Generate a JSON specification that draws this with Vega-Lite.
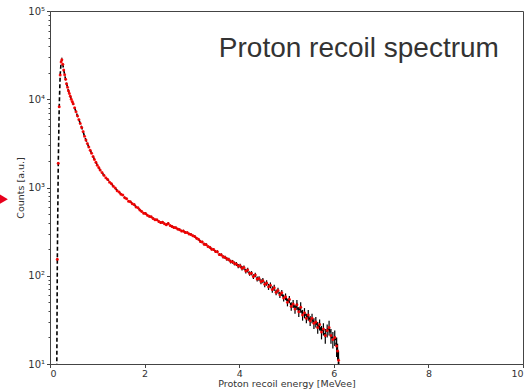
{
  "$schema": "https://vega.github.io/schema/vega-lite/v6.json",
  "width": 473,
  "height": 353,
  "autosize": {"type": "none"},
  "padding": {"left": 50, "top": 11, "right": 7, "bottom": 27},
  "background": "white",
  "config": {
    "view": {"stroke": "#444444", "strokeWidth": 1},
    "axis": {
      "domainColor": "#444444",
      "tickColor": "#444444",
      "labelColor": "#333333",
      "titleColor": "#333333",
      "labelFont": "DejaVu Sans",
      "titleFont": "DejaVu Sans",
      "labelFontSize": 10,
      "titleFontSize": 10,
      "titleFontWeight": "normal",
      "grid": false
    }
  },
  "datasets": {
    "spec": [
      {"x": 0.135, "y": 1, "e": 0},
      {"x": 0.155, "y": 154, "e": 5},
      {"x": 0.175, "y": 1880, "e": 40},
      {"x": 0.195, "y": 8200, "e": 120},
      {"x": 0.215, "y": 18800, "e": 200},
      {"x": 0.235, "y": 26500, "e": 250},
      {"x": 0.25, "y": 28000, "e": 260},
      {"x": 0.27, "y": 25000, "e": 240},
      {"x": 0.29, "y": 21500, "e": 220},
      {"x": 0.31, "y": 19000, "e": 200},
      {"x": 0.33, "y": 16800, "e": 180},
      {"x": 0.35, "y": 15000, "e": 160},
      {"x": 0.37, "y": 13700, "e": 150},
      {"x": 0.39, "y": 12500, "e": 140},
      {"x": 0.41, "y": 11600, "e": 130},
      {"x": 0.43, "y": 10800, "e": 120},
      {"x": 0.45, "y": 10000, "e": 110},
      {"x": 0.47, "y": 9400, "e": 100},
      {"x": 0.49, "y": 8900, "e": 100},
      {"x": 0.52, "y": 8000, "e": 90},
      {"x": 0.55, "y": 7200, "e": 85},
      {"x": 0.58, "y": 6500, "e": 80},
      {"x": 0.61, "y": 5900, "e": 75},
      {"x": 0.64, "y": 5300, "e": 70},
      {"x": 0.67, "y": 4800, "e": 65},
      {"x": 0.70, "y": 4300, "e": 60},
      {"x": 0.73, "y": 3800, "e": 55},
      {"x": 0.76, "y": 3450, "e": 50},
      {"x": 0.79, "y": 3150, "e": 50},
      {"x": 0.82, "y": 2880, "e": 45},
      {"x": 0.85, "y": 2650, "e": 45},
      {"x": 0.88, "y": 2440, "e": 40},
      {"x": 0.91, "y": 2250, "e": 40},
      {"x": 0.94, "y": 2080, "e": 38},
      {"x": 0.97, "y": 1930, "e": 36},
      {"x": 1.00, "y": 1790, "e": 34},
      {"x": 1.03, "y": 1690, "e": 32},
      {"x": 1.06, "y": 1575, "e": 30},
      {"x": 1.10, "y": 1475, "e": 30},
      {"x": 1.14, "y": 1380, "e": 28},
      {"x": 1.18, "y": 1290, "e": 27},
      {"x": 1.22, "y": 1230, "e": 26},
      {"x": 1.26, "y": 1150, "e": 25},
      {"x": 1.30, "y": 1100, "e": 24},
      {"x": 1.34, "y": 1030, "e": 23},
      {"x": 1.38, "y": 985, "e": 22},
      {"x": 1.42, "y": 920, "e": 22},
      {"x": 1.46, "y": 890, "e": 21},
      {"x": 1.50, "y": 840, "e": 20},
      {"x": 1.54, "y": 820, "e": 20},
      {"x": 1.58, "y": 765, "e": 19},
      {"x": 1.62, "y": 745, "e": 19},
      {"x": 1.66, "y": 700, "e": 18},
      {"x": 1.70, "y": 690, "e": 18},
      {"x": 1.74, "y": 655, "e": 17},
      {"x": 1.78, "y": 640, "e": 17},
      {"x": 1.82, "y": 600, "e": 16},
      {"x": 1.86, "y": 590, "e": 16},
      {"x": 1.90, "y": 555, "e": 15},
      {"x": 1.94, "y": 535, "e": 15},
      {"x": 1.98, "y": 512, "e": 15},
      {"x": 2.02, "y": 508, "e": 15},
      {"x": 2.06, "y": 485, "e": 14},
      {"x": 2.10, "y": 472, "e": 14},
      {"x": 2.14, "y": 465, "e": 14},
      {"x": 2.18, "y": 445, "e": 14},
      {"x": 2.22, "y": 432, "e": 13},
      {"x": 2.26, "y": 430, "e": 13},
      {"x": 2.30, "y": 412, "e": 13},
      {"x": 2.34, "y": 400, "e": 13},
      {"x": 2.38, "y": 405, "e": 13},
      {"x": 2.42, "y": 388, "e": 12},
      {"x": 2.46, "y": 378, "e": 12},
      {"x": 2.50, "y": 392, "e": 12},
      {"x": 2.54, "y": 370, "e": 12},
      {"x": 2.58, "y": 362, "e": 11},
      {"x": 2.62, "y": 352, "e": 11},
      {"x": 2.66, "y": 350, "e": 11},
      {"x": 2.70, "y": 338, "e": 10},
      {"x": 2.74, "y": 333, "e": 10},
      {"x": 2.78, "y": 322, "e": 10},
      {"x": 2.82, "y": 322, "e": 10},
      {"x": 2.86, "y": 310, "e": 9},
      {"x": 2.90, "y": 309, "e": 9},
      {"x": 2.94, "y": 298, "e": 9},
      {"x": 2.98, "y": 294, "e": 9},
      {"x": 3.02, "y": 284, "e": 9},
      {"x": 3.06, "y": 278, "e": 9},
      {"x": 3.10, "y": 266, "e": 8},
      {"x": 3.14, "y": 260, "e": 8},
      {"x": 3.18, "y": 244, "e": 8},
      {"x": 3.22, "y": 242, "e": 8},
      {"x": 3.26, "y": 228, "e": 8},
      {"x": 3.30, "y": 226, "e": 8},
      {"x": 3.34, "y": 215, "e": 7},
      {"x": 3.38, "y": 210, "e": 7},
      {"x": 3.42, "y": 200, "e": 7},
      {"x": 3.46, "y": 198, "e": 7},
      {"x": 3.50, "y": 188, "e": 7},
      {"x": 3.54, "y": 187, "e": 7},
      {"x": 3.58, "y": 174, "e": 7},
      {"x": 3.62, "y": 173, "e": 7},
      {"x": 3.66, "y": 164, "e": 7},
      {"x": 3.70, "y": 162, "e": 7},
      {"x": 3.74, "y": 155, "e": 7},
      {"x": 3.78, "y": 153, "e": 7},
      {"x": 3.82, "y": 145, "e": 7},
      {"x": 3.86, "y": 144, "e": 7},
      {"x": 3.90, "y": 138, "e": 7},
      {"x": 3.94, "y": 136, "e": 7},
      {"x": 3.98, "y": 129, "e": 7},
      {"x": 4.02, "y": 130, "e": 7},
      {"x": 4.06, "y": 122, "e": 7},
      {"x": 4.10, "y": 124, "e": 7},
      {"x": 4.14, "y": 113, "e": 7},
      {"x": 4.18, "y": 116, "e": 7},
      {"x": 4.22, "y": 106, "e": 6},
      {"x": 4.26, "y": 107, "e": 6},
      {"x": 4.30, "y": 98, "e": 6},
      {"x": 4.34, "y": 102, "e": 6},
      {"x": 4.38, "y": 92, "e": 6},
      {"x": 4.42, "y": 93, "e": 6},
      {"x": 4.46, "y": 86, "e": 6},
      {"x": 4.50, "y": 88, "e": 6},
      {"x": 4.54, "y": 80, "e": 6},
      {"x": 4.58, "y": 83, "e": 6},
      {"x": 4.62, "y": 75, "e": 6},
      {"x": 4.66, "y": 78, "e": 6},
      {"x": 4.70, "y": 70, "e": 6},
      {"x": 4.74, "y": 73, "e": 6},
      {"x": 4.78, "y": 65, "e": 5},
      {"x": 4.82, "y": 68, "e": 5},
      {"x": 4.86, "y": 61, "e": 5},
      {"x": 4.90, "y": 64, "e": 5},
      {"x": 4.94, "y": 56, "e": 5},
      {"x": 4.98, "y": 58, "e": 5},
      {"x": 5.02, "y": 50, "e": 5},
      {"x": 5.06, "y": 54, "e": 5},
      {"x": 5.10, "y": 45, "e": 5},
      {"x": 5.14, "y": 48, "e": 5},
      {"x": 5.18, "y": 42, "e": 5},
      {"x": 5.22, "y": 47, "e": 6},
      {"x": 5.26, "y": 39, "e": 5},
      {"x": 5.30, "y": 44, "e": 6},
      {"x": 5.34, "y": 36, "e": 5},
      {"x": 5.38, "y": 38, "e": 5},
      {"x": 5.42, "y": 33, "e": 4},
      {"x": 5.46, "y": 36, "e": 5},
      {"x": 5.50, "y": 31, "e": 4},
      {"x": 5.54, "y": 33, "e": 4},
      {"x": 5.58, "y": 29, "e": 4},
      {"x": 5.62, "y": 30, "e": 4},
      {"x": 5.66, "y": 26, "e": 4},
      {"x": 5.70, "y": 28, "e": 4},
      {"x": 5.74, "y": 23, "e": 4},
      {"x": 5.78, "y": 25, "e": 4},
      {"x": 5.82, "y": 21, "e": 4},
      {"x": 5.86, "y": 24, "e": 4},
      {"x": 5.90, "y": 26, "e": 5},
      {"x": 5.94, "y": 21, "e": 4},
      {"x": 5.98, "y": 19, "e": 4},
      {"x": 6.02, "y": 20, "e": 4},
      {"x": 6.06, "y": 16, "e": 4},
      {"x": 6.08, "y": 14, "e": 3},
      {"x": 6.10, "y": 11, "e": 3},
      {"x": 6.12, "y": 1, "e": 0}
    ],
    "label": [{"t": "Proton recoil spectrum", "lx": 6.53, "ly": 30300}],
    "arrow": [{"ax": -1.01, "ay": 738}]
  },
  "layer": [
    {
      "data": {"name": "spec"},
      "mark": {"type": "errorbar", "ticks": false, "rule": {"stroke": "black", "strokeWidth": 1.2}, "clip": true},
      "encoding": {
        "x": {"field": "x", "type": "quantitative", "scale": {"domain": [0, 10], "nice": false, "zero": false},
          "axis": {"values": [0, 2, 4, 6, 8, 10], "title": "Proton recoil energy [MeVee]", "tickSize": 3.5, "labelPadding": 1, "titlePadding": 0, "labelFontSize": 9.5, "titleFontSize": 9.5}},
        "y": {"field": "y", "type": "quantitative", "scale": {"type": "log", "domain": [10, 100000], "nice": false},
          "axis": {
            "title": "Counts [a.u.]",
            "values": [10, 20, 30, 40, 50, 60, 70, 80, 90, 100, 200, 300, 400, 500, 600, 700, 800, 900, 1000, 2000, 3000, 4000, 5000, 6000, 7000, 8000, 9000, 10000, 20000, 30000, 40000, 50000, 60000, 70000, 80000, 90000, 100000],
            "labelExpr": "datum.value == 10 ? '10¹' : datum.value == 100 ? '10²' : datum.value == 1000 ? '10³' : datum.value == 10000 ? '10⁴' : datum.value == 100000 ? '10⁵' : ''",
            "tickSize": {"condition": {"test": "indexof([10,100,1000,10000,100000], datum.value) < 0", "value": 2}, "value": 3.5},
            "labelPadding": 2,
            "titlePadding": 2,
            "titleFontSize": 9.5
          }},
        "yError": {"field": "e"}
      }
    },
    {
      "data": {"name": "spec"},
      "mark": {"type": "line", "color": "black", "strokeWidth": 1.6, "strokeDash": [4, 2.5], "clip": true},
      "encoding": {
        "x": {"field": "x", "type": "quantitative"},
        "y": {"field": "y", "type": "quantitative"}
      }
    },
    {
      "data": {"name": "spec"},
      "mark": {"type": "circle", "color": "#ff0000", "size": 9, "opacity": 0.9, "clip": true},
      "encoding": {
        "x": {"field": "x", "type": "quantitative"},
        "y": {"field": "y", "type": "quantitative"}
      }
    },
    {
      "data": {"name": "label"},
      "mark": {"type": "text", "font": "Liberation Sans", "fontSize": 28, "color": "#333333", "align": "center", "baseline": "alphabetic"},
      "encoding": {
        "x": {"field": "lx", "type": "quantitative"},
        "y": {"field": "ly", "type": "quantitative"},
        "text": {"field": "t"}
      }
    },
    {
      "data": {"name": "arrow"},
      "mark": {"type": "point", "shape": "triangle-right", "filled": true, "color": "#e8001c", "size": 170, "opacity": 1},
      "encoding": {
        "x": {"field": "ax", "type": "quantitative"},
        "y": {"field": "ay", "type": "quantitative"}
      }
    }
  ]
}
